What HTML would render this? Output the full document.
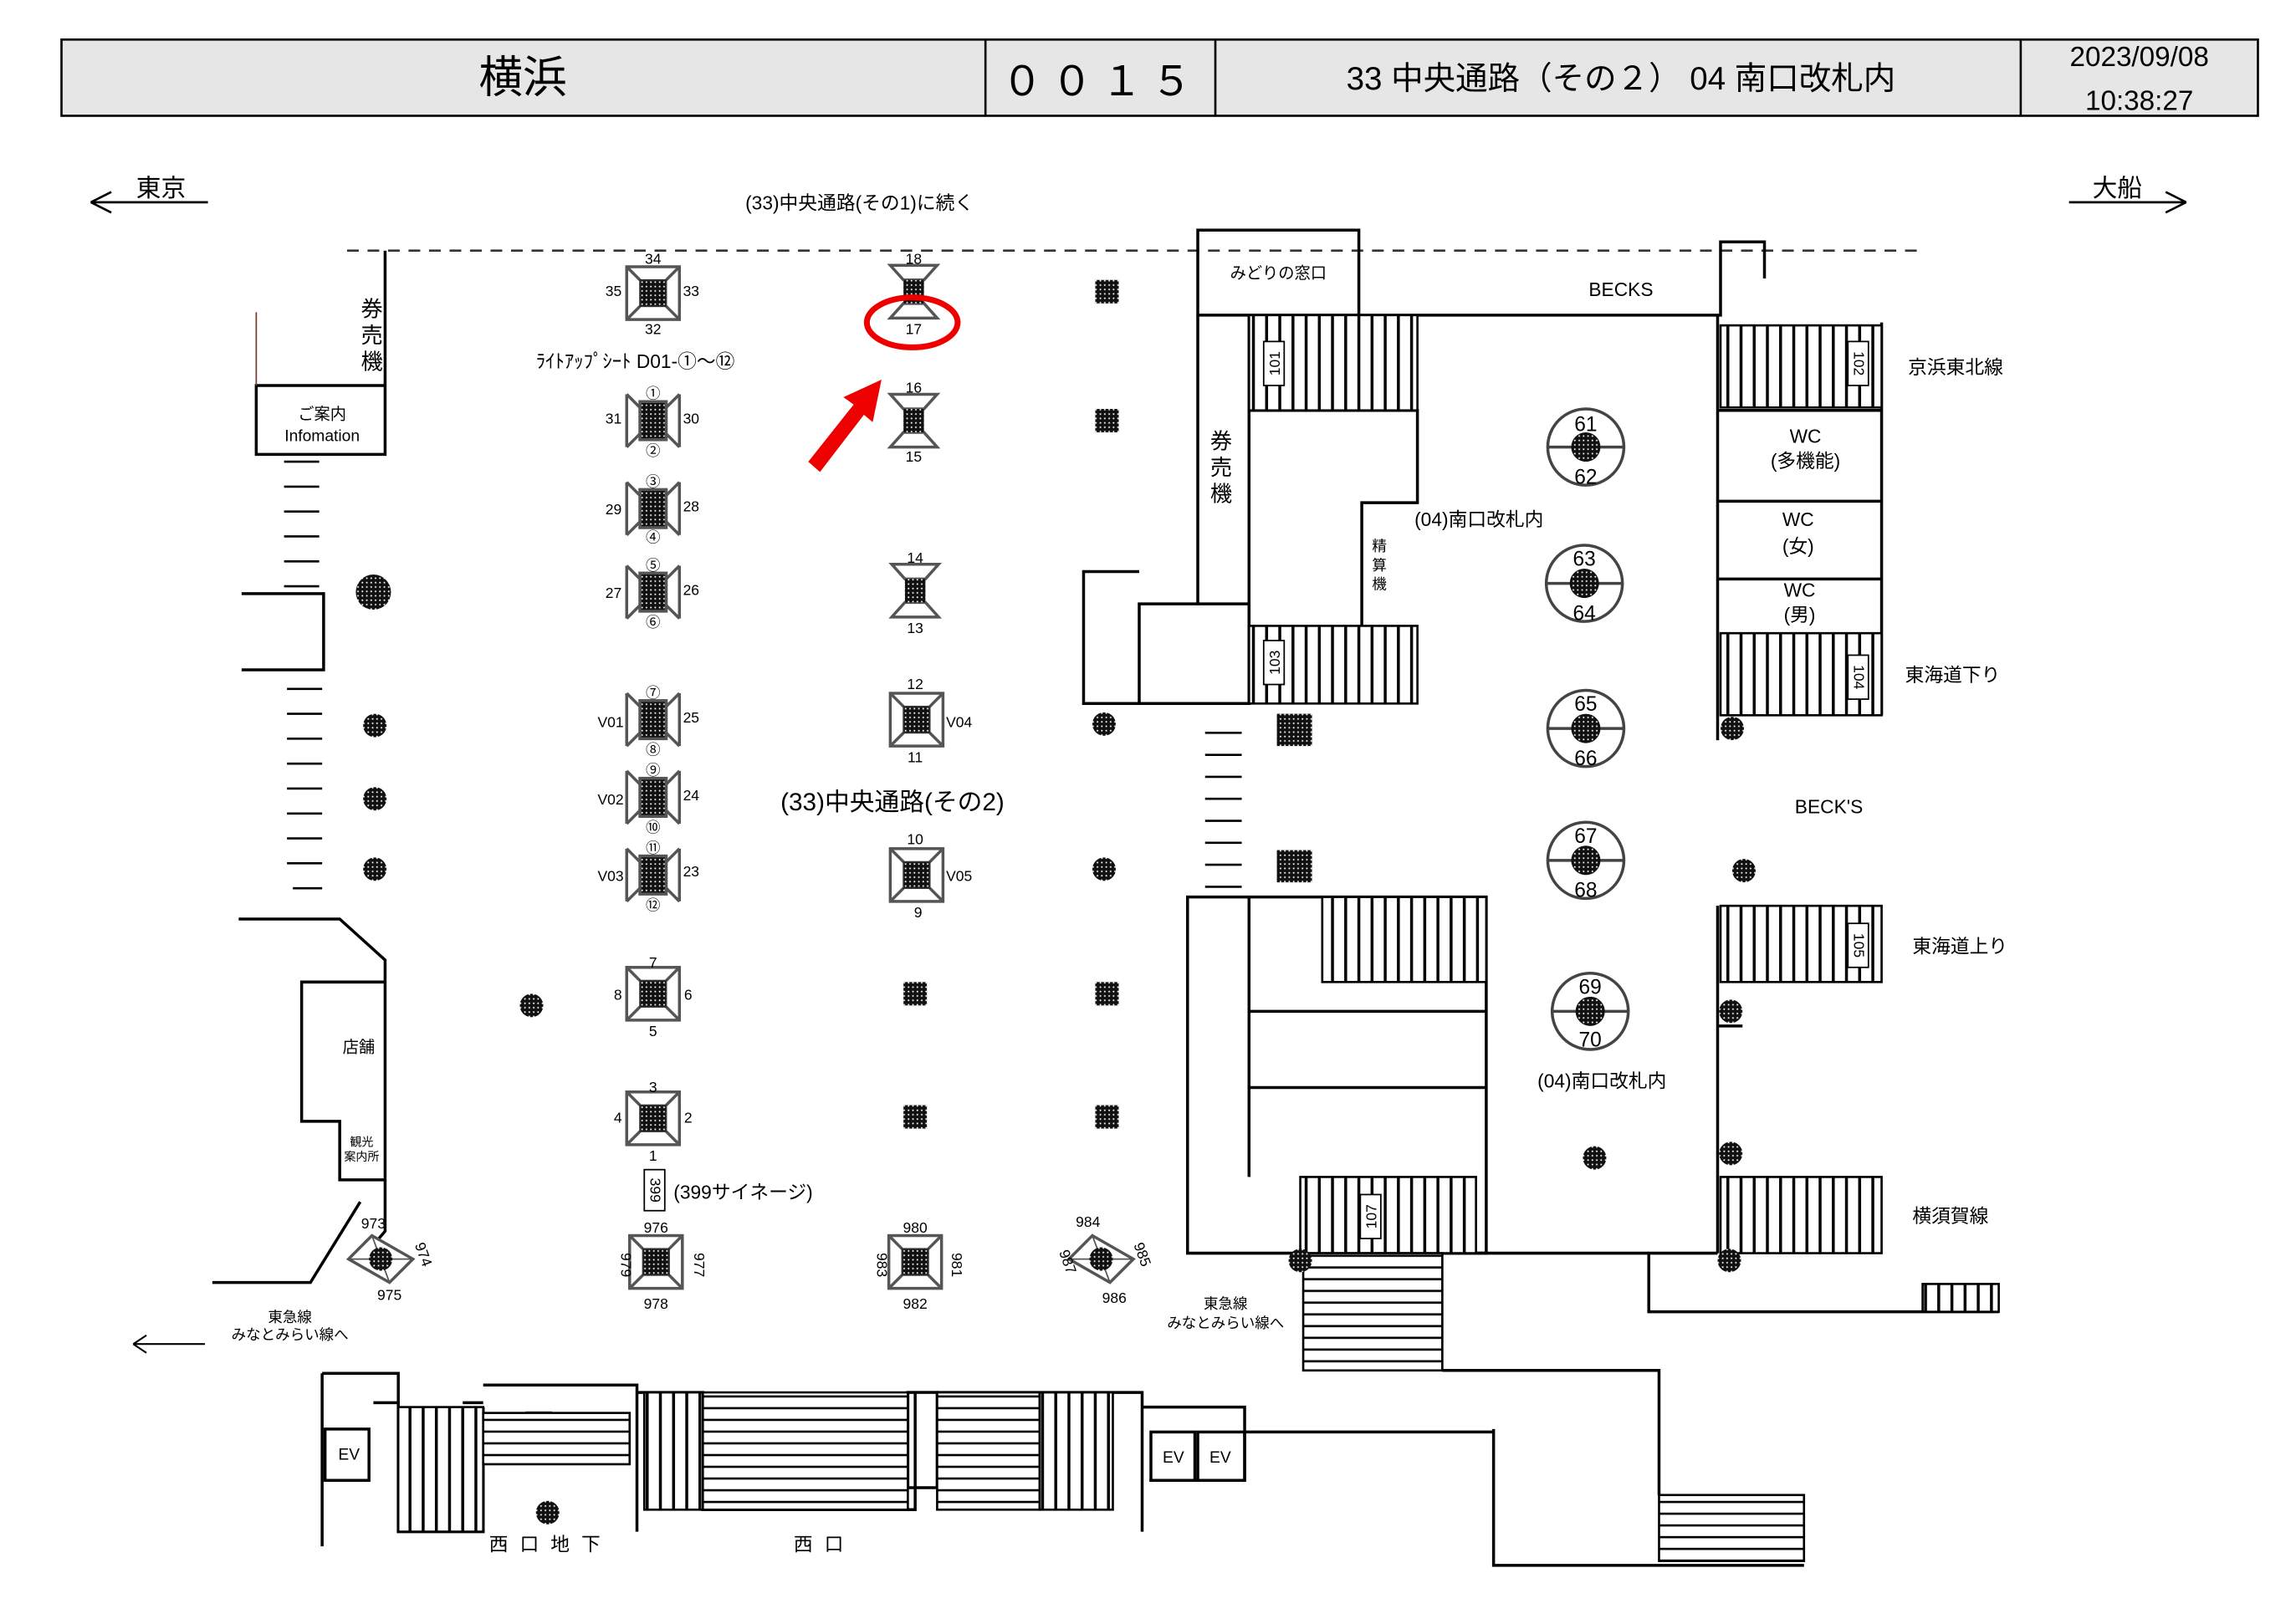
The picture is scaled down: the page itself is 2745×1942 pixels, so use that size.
<!DOCTYPE html>
<html><head><meta charset="utf-8"><style>
html,body{margin:0;padding:0;background:#fff}
svg{display:block}
text{font-family:"Liberation Sans","Noto Sans CJK JP",sans-serif;fill:#000}
</style></head><body>
<svg width="2745" height="1942" viewBox="0 0 1568 1108" preserveAspectRatio="none" xmlns="http://www.w3.org/2000/svg">
<defs>
<pattern id="dots" width="3" height="3" patternUnits="userSpaceOnUse"><rect width="3" height="3" fill="#111"/><rect x="1" y="1" width="1" height="1" fill="#fff"/></pattern>
<pattern id="vst" width="9" height="10" patternUnits="userSpaceOnUse"><rect width="9" height="10" fill="#fff"/><rect x="0" width="2" height="10" fill="#000"/></pattern>
<pattern id="hst" width="10" height="8" patternUnits="userSpaceOnUse"><rect width="10" height="8" fill="#fff"/><rect y="0" width="10" height="1.5" fill="#000"/></pattern>
<g id="sq"><rect x="-18" y="-18" width="36" height="36" fill="#fff" stroke="#555" stroke-width="2"/><path d="M-18-18L-9-9M18-18L9-9M-18 18L-9 9M18 18L9 9" stroke="#555" stroke-width="2"/><rect x="-9" y="-9" width="18" height="18" fill="url(#dots)" stroke="#333"/></g>
<g id="xx"><path d="M-18-18L-9-9M18-18L9-9M-18 18L-9 9M18 18L9 9M-18-18V18M18-18V18" stroke="#555" stroke-width="2" fill="none"/><rect x="-9" y="-13" width="18" height="26" fill="url(#dots)" stroke="#555" stroke-width="2"/></g>
<g id="hg"><path d="M-16-18H16L7-8H-7ZM-16 18H16L7 8H-7Z" fill="#fff" stroke="#555" stroke-width="2"/><rect x="-7" y="-8" width="14" height="16" fill="url(#dots)"/></g>
<g id="bx"><rect x="-8" y="-8" width="16" height="16" fill="url(#dots)"/></g>
<g id="dt"><circle r="8" fill="url(#dots)"/></g>
<g id="bc"><circle r="26" fill="#fff" stroke="#444" stroke-width="2"/><line x1="-26" x2="26" stroke="#444" stroke-width="2"/><circle r="10" fill="url(#dots)"/></g>
<g id="dm"><path d="M-22 0L-6-16L22 0L6 16Z" fill="#fff" stroke="#555" stroke-width="2"/><path d="M-22 0L22 0M-6-16L6 16" stroke="#555"/><circle r="8" fill="url(#dots)"/></g>
</defs>
<!-- header -->
<rect x="42" y="27" width="1500" height="52" fill="#e6e6e6" stroke="#000" stroke-width="1.5"/>
<path d="M673 27V79M830 27V79M1380 27V79" stroke="#000" stroke-width="1.5"/>
<text x="357" y="63" font-size="30" text-anchor="middle">横浜</text>
<text x="752" y="65" font-size="28" text-anchor="middle" letter-spacing="6">００１５</text>
<text x="1107" y="61" font-size="22" text-anchor="middle">33 中央通路（その２） 04 南口改札内</text>
<text x="1461" y="45" font-size="19" text-anchor="middle">2023/09/08</text>
<text x="1461" y="75" font-size="19" text-anchor="middle">10:38:27</text>
<!-- top arrows -->
<path d="M62 138H142M62 138L76 131M62 138L76 145M1413 138H1493M1493 138L1479 131M1493 138L1479 145" stroke="#000" stroke-width="1.5" fill="none"/>
<text x="110" y="134" font-size="17" text-anchor="middle">東京</text>
<text x="1446" y="134" font-size="17" text-anchor="middle">大船</text>
<text x="587" y="143" font-size="13" text-anchor="middle">(33)中央通路(その1)に続く</text>
<line x1="237" y1="171" x2="1310" y2="171" stroke="#333" stroke-width="1.5" stroke-dasharray="8,6"/>
<g fill="none" stroke="#000" stroke-width="2">
<path d="M263 171V310H175V263H263"/><line x1="175" y1="213" x2="175" y2="263" stroke="#7a3a2a" stroke-width="1"/>
<path d="M165 405H221V457H165"/>
<path d="M163 627H232L263 655V805H232V765H206V670H263"/>
<path d="M263 805V840L246 860M145 875H212L246 820"/>
<rect x="818" y="157" width="110" height="58"/>
<path d="M928 215H1175V165H1205V190"/>
<path d="M818 215V412H778V480H740V390H778M818 412H853V480H778"/>
<path d="M853 215V480M853 280H968V343H930V427M968 343V280"/>
<path d="M1173 215V505M1173 280H1285M1173 342H1285M1173 395H1285M1285 220V488"/>
<path d="M811 612H1015V855H811Z M853 612V803M853 690H1015M853 742H1015"/>
<path d="M1173 618V855M1173 700H1190M1173 855H1126V895H1365"/>
<path d="M985 855H1126M985 935H1133V1020M1020 975V1068H1232"/>
<path d="M220 937V1055M220 937H272V1045H330V960M255 957H272M316 957H330M330 945H435V1045M435 950H480V1030H625V950M640 950H780V1045M780 960H850V977H1020M850 977V1010H785"/>
<rect x="222" y="975" width="30" height="35"/><rect x="786" y="977" width="30" height="33"/><rect x="818" y="977" width="32" height="33"/>
<rect x="620" y="950" width="20" height="65"/><rect x="360" y="964" width="16" height="34"/>
</g>
<text x="231" y="996" font-size="11">EV</text><text x="794" y="998" font-size="11">EV</text><text x="826" y="998" font-size="11">EV</text>
<g stroke="#000" stroke-width="1.5">
<rect x="853" y="215" width="115" height="65" fill="url(#vst)"/>
<rect x="853" y="427" width="115" height="53" fill="url(#vst)"/>
<rect x="1175" y="222" width="110" height="56" fill="url(#vst)"/>
<rect x="1175" y="432" width="110" height="56" fill="url(#vst)"/>
<rect x="1175" y="618" width="110" height="52" fill="url(#vst)"/>
<rect x="903" y="612" width="112" height="58" fill="url(#vst)"/>
<rect x="888" y="803" width="120" height="52" fill="url(#vst)"/>
<rect x="1175" y="803" width="110" height="52" fill="url(#vst)"/>
<rect x="1313" y="876" width="52" height="19" fill="url(#vst)"/>
<rect x="890" y="855" width="95" height="80" fill="url(#hst)"/>
<rect x="1133" y="1020" width="99" height="45" fill="url(#hst)"/>
<rect x="272" y="960" width="58" height="85" fill="url(#vst)"/>
<rect x="440" y="950" width="40" height="80" fill="url(#vst)"/>
<rect x="480" y="950" width="140" height="80" fill="url(#hst)"/>
<rect x="640" y="950" width="70" height="80" fill="url(#hst)"/>
<rect x="710" y="950" width="50" height="80" fill="url(#vst)"/>
<rect x="330" y="964" width="100" height="35" fill="url(#hst)"/>
</g>
<g fill="none" stroke="#000" stroke-width="1.5">
<path d="M194 315H218M194 332H218M194 349H218M194 366H218M194 383H218M194 400H218M196 470H220M196 487H220M196 504H220M196 521H220M196 538H220M196 555H220M196 572H220M196 589H220M200 606H220M823 500H848M823 515H848M823 530H848M823 545H848M823 560H848M823 575H848M823 590H848M823 605H848"/>
</g>
<g font-size="10" text-anchor="middle">
<rect x="863" y="233" width="14" height="30" fill="#fff" stroke="#000"/><text transform="translate(874,248) rotate(-90)">101</text>
<rect x="863" y="437" width="14" height="30" fill="#fff" stroke="#000"/><text transform="translate(874,452) rotate(-90)">103</text>
<rect x="1262" y="233" width="14" height="30" fill="#fff" stroke="#000"/><text transform="translate(1266,248) rotate(90)">102</text>
<rect x="1262" y="447" width="14" height="30" fill="#fff" stroke="#000"/><text transform="translate(1266,462) rotate(90)">104</text>
<rect x="1262" y="630" width="14" height="30" fill="#fff" stroke="#000"/><text transform="translate(1266,645) rotate(90)">105</text>
<rect x="929" y="815" width="14" height="30" fill="#fff" stroke="#000"/><text transform="translate(940,830) rotate(-90)">107</text>
<rect x="440" y="798" width="14" height="28" fill="#fff" stroke="#000"/><text transform="translate(444,812) rotate(90)">399</text>
</g>
<g font-size="13">
<text x="873" y="190" font-size="11" text-anchor="middle">みどりの窓口</text>
<text x="1107" y="202" text-anchor="middle">BECKS</text>
<text x="1303" y="255">京浜東北線</text>
<text x="1233" y="302" text-anchor="middle">WC</text><text x="1233" y="319" text-anchor="middle">(多機能)</text>
<text x="1228" y="359" text-anchor="middle">WC</text><text x="1228" y="377" text-anchor="middle">(女)</text>
<text x="1229" y="407" text-anchor="middle">WC</text><text x="1229" y="424" text-anchor="middle">(男)</text>
<text x="1301" y="465">東海道下り</text>
<text x="1249" y="555" text-anchor="middle">BECK'S</text>
<text x="1306" y="650">東海道上り</text>
<text x="1306" y="834">横須賀線</text>
<text x="966" y="359">(04)南口改札内</text>
<text x="1050" y="742">(04)南口改札内</text>
<text x="220" y="286" font-size="11" text-anchor="middle">ご案内</text><text x="220" y="301" font-size="11" text-anchor="middle">Infomation</text>
<text x="234" y="718" font-size="11">店舗</text>
<text x="247" y="782" font-size="8" text-anchor="middle">観光</text><text x="247" y="792" font-size="8" text-anchor="middle">案内所</text>
<text x="366" y="251">ﾗｲﾄｱｯﾌﾟｼｰﾄ D01-①～⑫</text>
<text x="533" y="553" font-size="17">(33)中央通路(その2)</text>
<text x="460" y="818">(399サイネージ)</text>
<text x="198" y="902" font-size="10" text-anchor="middle">東急線</text><text x="198" y="914" font-size="10" text-anchor="middle">みなとみらい線へ</text>
<text x="837" y="893" font-size="10" text-anchor="middle">東急線</text><text x="837" y="906" font-size="10" text-anchor="middle">みなとみらい線へ</text>
<text x="334" y="1058" letter-spacing="8">西口地下</text>
<text x="542" y="1058" letter-spacing="8">西口</text>
</g>
<g font-size="15" text-anchor="middle"><text x="254" y="216">券</text><text x="254" y="234">売</text><text x="254" y="252">機</text>
<text x="834" y="306">券</text><text x="834" y="324">売</text><text x="834" y="342">機</text></g>
<g font-size="10" text-anchor="middle"><text x="942" y="376">精</text><text x="942" y="389">算</text><text x="942" y="402">機</text></g>
<path d="M91 917H140M91 917L100 911M91 917L100 923" stroke="#000" stroke-width="1.2" fill="none"/>
<use href="#sq" x="446" y="200"/><use href="#xx" x="446" y="287"/><use href="#xx" x="446" y="347"/><use href="#xx" x="446" y="404"/>
<use href="#xx" x="446" y="491"/><use href="#xx" x="446" y="544"/><use href="#xx" x="446" y="597"/>
<use href="#sq" x="446" y="678"/><use href="#sq" x="446" y="763"/><use href="#sq" x="448" y="861"/>
<use href="#hg" x="624" y="199"/><use href="#hg" x="624" y="287"/><use href="#hg" x="625" y="403"/>
<use href="#sq" x="626" y="491"/><use href="#sq" x="626" y="597"/><use href="#sq" x="625" y="861"/>
<use href="#bx" x="625" y="678"/><use href="#bx" x="625" y="762"/>
<use href="#bx" x="756" y="199"/><use href="#bx" x="756" y="287"/><use href="#bx" x="756" y="678"/><use href="#bx" x="756" y="762"/>
<rect x="872" y="487" width="24" height="22" fill="url(#dots)"/><rect x="872" y="580" width="24" height="22" fill="url(#dots)"/>
<use href="#dm" x="260" y="859"/><use href="#dm" x="752" y="859"/>
<circle cx="255" cy="404" r="12" fill="url(#dots)"/>
<use href="#dt" x="256" y="495"/><use href="#dt" x="256" y="545"/><use href="#dt" x="256" y="593"/><use href="#dt" x="363" y="686"/>
<use href="#dt" x="754" y="494"/><use href="#dt" x="754" y="593"/><use href="#dt" x="1183" y="497"/><use href="#dt" x="1191" y="594"/>
<use href="#dt" x="1182" y="690"/><use href="#dt" x="1182" y="787"/><use href="#dt" x="1089" y="790"/><use href="#dt" x="888" y="860"/><use href="#dt" x="1181" y="860"/><use href="#dt" x="374" y="1032"/>
<use href="#bc" x="1083" y="305"/><use href="#bc" x="1082" y="398"/><use href="#bc" x="1083" y="497"/><use href="#bc" x="1083" y="587"/><use href="#bc" x="1086" y="690"/>
<g font-size="14" text-anchor="middle"><text x="1083" y="294">61</text><text x="1083" y="330">62</text><text x="1082" y="386">63</text><text x="1082" y="423">64</text><text x="1083" y="485">65</text><text x="1083" y="522">66</text><text x="1083" y="575">67</text><text x="1083" y="612">68</text><text x="1086" y="678">69</text><text x="1086" y="714">70</text></g>
<g font-size="10" text-anchor="middle">
<text x="446" y="180">34</text><text x="446" y="228">32</text><text x="419" y="202">35</text><text x="472" y="202">33</text>
<text x="446" y="272">①</text><text x="446" y="311">②</text><text x="419" y="289">31</text><text x="472" y="289">30</text>
<text x="446" y="332">③</text><text x="446" y="370">④</text><text x="419" y="351">29</text><text x="472" y="349">28</text>
<text x="446" y="389">⑤</text><text x="446" y="428">⑥</text><text x="419" y="408">27</text><text x="472" y="406">26</text>
<text x="446" y="476">⑦</text><text x="446" y="515">⑧</text><text x="417" y="496">V01</text><text x="472" y="493">25</text>
<text x="446" y="529">⑨</text><text x="446" y="568">⑩</text><text x="417" y="549">V02</text><text x="472" y="546">24</text>
<text x="446" y="582">⑪</text><text x="446" y="621">⑫</text><text x="417" y="601">V03</text><text x="472" y="598">23</text>
<text x="446" y="660">7</text><text x="446" y="707">5</text><text x="422" y="682">8</text><text x="470" y="682">6</text>
<text x="446" y="745">3</text><text x="446" y="792">1</text><text x="422" y="766">4</text><text x="470" y="766">2</text>
<text x="448" y="841">976</text><text x="448" y="893">978</text><text transform="translate(424,863) rotate(90)">979</text><text transform="translate(474,863) rotate(90)">977</text>
<text x="624" y="180">18</text><text x="624" y="228">17</text><text x="624" y="268">16</text><text x="624" y="315">15</text>
<text x="625" y="384">14</text><text x="625" y="432">13</text><text x="625" y="470">12</text><text x="625" y="520">11</text><text x="655" y="496">V04</text>
<text x="625" y="576">10</text><text x="627" y="626">9</text><text x="655" y="601">V05</text>
<text x="625" y="841">980</text><text x="625" y="893">982</text><text transform="translate(599,863) rotate(90)">983</text><text transform="translate(650,863) rotate(90)">981</text>
<text x="255" y="838">973</text><text x="266" y="887">975</text><text transform="translate(286,857) rotate(70)">974</text>
<text x="743" y="837">984</text><text x="761" y="889">986</text><text transform="translate(777,857) rotate(70)">985</text><text transform="translate(726,862) rotate(70)">987</text>
</g>
<ellipse cx="623" cy="220" rx="31" ry="17" fill="none" stroke="#e00" stroke-width="4"/>
<path d="M552 315L583 276L576 271L602 259L596 288L590 283L560 322Z" fill="#e00"/>
</svg>
</body></html>
